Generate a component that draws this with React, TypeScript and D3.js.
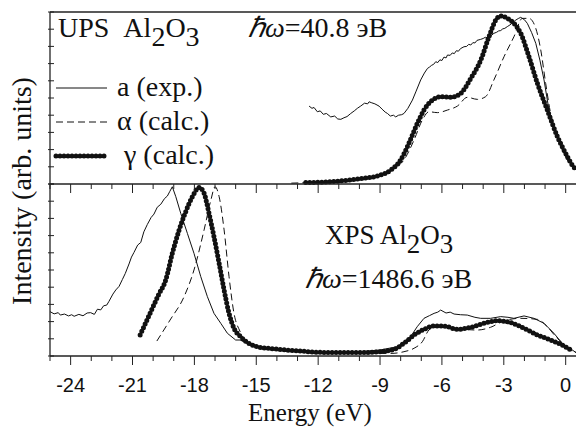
import React, { useEffect, useRef } from "react";
import * as d3 from "d3";

// energy (eV), intensity (0..1 of panel height)
const upsExp = [
  [-12.44, 0.453], [-12.3, 0.44], [-12.2, 0.445], [-12.04, 0.42], [-11.9, 0.425], [-11.75, 0.405],
  [-11.6, 0.41], [-11.39, 0.39], [-11.2, 0.395], [-11.05, 0.378], [-10.9, 0.376], [-10.75, 0.385],
  [-10.6, 0.392], [-10.42, 0.41], [-10.25, 0.425], [-10.1, 0.44], [-9.94, 0.453], [-9.75, 0.47],
  [-9.6, 0.466], [-9.53, 0.478], [-9.4, 0.472], [-9.25, 0.466], [-9.05, 0.453], [-8.9, 0.435],
  [-8.75, 0.418], [-8.64, 0.41], [-8.5, 0.395], [-8.35, 0.4], [-8.24, 0.39], [-8.1, 0.4],
  [-7.95, 0.403], [-7.84, 0.41], [-7.65, 0.44], [-7.43, 0.488], [-7.25, 0.54], [-7.03, 0.605],
  [-6.85, 0.645], [-6.7, 0.672], [-6.6, 0.68], [-6.5, 0.69], [-6.4, 0.696], [-6.3, 0.711],
  [-6.2, 0.706], [-6.1, 0.722], [-6.0, 0.718], [-5.9, 0.738], [-5.8, 0.733], [-5.73, 0.75],
  [-5.6, 0.748], [-5.5, 0.762], [-5.4, 0.758], [-5.3, 0.775], [-5.2, 0.772], [-5.1, 0.787],
  [-4.93, 0.798], [-4.8, 0.8], [-4.7, 0.812], [-4.6, 0.808], [-4.5, 0.822], [-4.4, 0.82],
  [-4.3, 0.835], [-4.12, 0.841], [-4.0, 0.846], [-3.9, 0.853], [-3.8, 0.851], [-3.7, 0.866],
  [-3.6, 0.864], [-3.48, 0.876], [-3.35, 0.882], [-3.25, 0.89], [-3.15, 0.892], [-3.05, 0.902],
  [-2.95, 0.905], [-2.83, 0.915], [-2.7, 0.925], [-2.6, 0.935], [-2.5, 0.945], [-2.42, 0.953],
  [-2.3, 0.962], [-2.18, 0.969], [-2.0, 0.955], [-1.86, 0.934], [-1.65, 0.88], [-1.45, 0.818],
  [-1.25, 0.72], [-1.05, 0.605], [-0.81, 0.43], [-0.65, 0.35], [-0.48, 0.295], [-0.3, 0.24],
  [-0.16, 0.198], [0.05, 0.15], [0.24, 0.12], [0.53, 0.093],
];

const upsAlpha = [
  [-13.3, 0.005], [-12, 0.01], [-11, 0.015], [-10, 0.025], [-8.97, 0.052], [-8.32, 0.09],
  [-7.84, 0.14], [-7.35, 0.256], [-6.95, 0.372], [-6.63, 0.42], [-6.22, 0.415], [-5.73, 0.43],
  [-5.25, 0.453], [-4.77, 0.504], [-4.28, 0.492], [-3.88, 0.508], [-3.48, 0.605], [-2.99, 0.74],
  [-2.51, 0.856], [-2.1, 0.963], [-1.78, 0.963], [-1.45, 0.905], [-1.21, 0.78], [-0.97, 0.585],
  [-0.73, 0.41], [-0.4, 0.275], [-0.08, 0.178], [0.24, 0.11], [0.53, 0.081],
];

const upsGamma = [
  [-12.6, 0.008], [-11.39, 0.013], [-10.1, 0.029], [-9.13, 0.047], [-8.48, 0.081], [-8.0, 0.14],
  [-7.6, 0.237], [-7.19, 0.353], [-6.87, 0.43], [-6.46, 0.488], [-6.06, 0.508], [-5.57, 0.504],
  [-5.09, 0.527], [-4.6, 0.614], [-4.12, 0.72], [-3.72, 0.856], [-3.39, 0.953], [-3.15, 0.977],
  [-2.83, 0.963], [-2.51, 0.934], [-2.18, 0.876], [-1.78, 0.74], [-1.37, 0.585], [-0.89, 0.43],
  [-0.4, 0.275], [0.0, 0.178], [0.32, 0.11], [0.53, 0.08],
];

const xpsExp = [
  [-25.0, 0.258], [-24.8, 0.245], [-24.6, 0.252], [-24.5, 0.238], [-24.3, 0.244], [-24.1, 0.233],
  [-23.95, 0.24], [-23.83, 0.231], [-23.6, 0.242], [-23.4, 0.234], [-23.2, 0.25], [-23.03, 0.252],
  [-22.85, 0.242], [-22.7, 0.272], [-22.54, 0.268], [-22.4, 0.292], [-22.25, 0.296], [-22.14, 0.318],
  [-21.95, 0.36], [-21.81, 0.384], [-21.65, 0.405], [-21.49, 0.445], [-21.35, 0.48], [-21.17, 0.535],
  [-21.05, 0.575], [-20.93, 0.602], [-20.75, 0.645], [-20.6, 0.66], [-20.45, 0.722], [-20.28, 0.765],
  [-20.1, 0.805], [-19.96, 0.825], [-19.8, 0.865], [-19.63, 0.882], [-19.45, 0.915], [-19.31, 0.93],
  [-19.2, 0.955], [-19.07, 0.984], [-18.9, 0.926], [-18.66, 0.829], [-18.34, 0.713], [-18.02, 0.597],
  [-17.69, 0.461], [-17.37, 0.345], [-17.05, 0.248], [-16.72, 0.19], [-16.4, 0.132], [-16.0, 0.093],
  [-15.78, 0.093], [-15.4, 0.07], [-15, 0.06], [-14.5, 0.045], [-14, 0.04], [-13.5, 0.035],
  [-13, 0.03], [-12.5, 0.025], [-12, 0.02], [-11.5, 0.022], [-11, 0.02], [-10.5, 0.022],
  [-10, 0.025], [-9.5, 0.03], [-9, 0.035], [-8.16, 0.054], [-7.52, 0.112], [-7.2, 0.17],
  [-6.87, 0.219], [-6.6, 0.235], [-6.38, 0.248], [-6.2, 0.255], [-6.06, 0.267], [-5.8, 0.25],
  [-5.6, 0.255], [-5.41, 0.244], [-5.1, 0.24], [-4.77, 0.238], [-4.4, 0.225], [-4.12, 0.219],
  [-3.64, 0.219], [-3.15, 0.229], [-2.8, 0.225], [-2.51, 0.219], [-2.02, 0.233], [-1.54, 0.219],
  [-1.05, 0.19], [-0.57, 0.132], [-0.16, 0.073], [0.32, 0.035], [0.5, 0.02],
];

const xpsAlpha = [
  [-19.82, 0.087], [-19.18, 0.209], [-18.5, 0.345], [-18.02, 0.5], [-17.53, 0.733], [-17.2, 0.907],
  [-17.0, 0.984], [-16.8, 0.926], [-16.56, 0.733], [-16.32, 0.461], [-16.08, 0.248], [-15.78, 0.141],
  [-15.5, 0.08], [-15, 0.05], [-14, 0.035], [-12, 0.02], [-10, 0.015], [-8.5, 0.015],
  [-7.84, 0.025], [-7.35, 0.045], [-6.95, 0.083], [-6.63, 0.151], [-6.22, 0.174], [-5.41, 0.161],
  [-4.28, 0.151], [-3.64, 0.167], [-2.99, 0.205], [-2.18, 0.219], [-1.37, 0.213], [-0.89, 0.17],
  [-0.4, 0.102], [0.08, 0.054], [0.5, 0.02],
];

const xpsGamma = [
  [-20.63, 0.122], [-20.15, 0.248], [-19.74, 0.355], [-19.39, 0.442], [-19.07, 0.597], [-18.74, 0.733],
  [-18.42, 0.839], [-18.1, 0.926], [-17.77, 0.98], [-17.53, 0.946], [-17.29, 0.829], [-17.05, 0.694],
  [-16.8, 0.539], [-16.56, 0.384], [-16.32, 0.248], [-16.08, 0.161], [-15.76, 0.112], [-15.3, 0.07],
  [-15, 0.055], [-14, 0.04], [-13, 0.03], [-12, 0.022], [-11, 0.02], [-10, 0.02],
  [-9.0, 0.025], [-8.32, 0.039], [-7.84, 0.074], [-7.35, 0.122], [-6.87, 0.155], [-6.38, 0.174],
  [-5.9, 0.174], [-5.25, 0.155], [-4.6, 0.167], [-3.96, 0.19], [-3.31, 0.205], [-2.67, 0.194],
  [-2.02, 0.161], [-1.37, 0.122], [-0.73, 0.093], [-0.08, 0.058], [0.32, 0.031],
];

const xMajorTicks = [-24, -21, -18, -15, -12, -9, -6, -3, 0];
const xMinorTicks = d3.range(-25, 1, 1);
const yTicks = d3.range(0, 1.0001, 0.1);

const legendItems = ["a (exp.)", "\u03b1 (calc.)", "\u03b3 (calc.)"];

const W = 576;
const H = 434;
const left = 50;
const right = 576;
const top = 12;
const mid = 184;
const bottom = 356;
const serif = "'Liberation Serif', 'Times New Roman', serif";
const dots = { width: 5, dash: "0,4" };

const App = () => {
  const svgRef = useRef(null);

  useEffect(() => {
    const svg = d3.select(svgRef.current);
    svg.selectAll("*").remove();

    const x = d3.scaleLinear().domain([-25, 0.5]).range([left, right]);
    const yUp = d3.scaleLinear().domain([0, 1]).range([mid, top]);
    const yLo = d3.scaleLinear().domain([0, 1]).range([bottom, mid]);

    const clip = svg.append("clipPath").attr("id", "plotclip");
    clip.append("rect").attr("x", left).attr("y", top - 2).attr("width", right - left).attr("height", bottom - top + 2);

    const plot = svg.append("g").attr("clip-path", "url(#plotclip)");

    const drawSeries = (data, y, kind) => {
      const line = d3
        .line()
        .x((d) => x(d[0]))
        .y((d) => y(d[1]))
        .curve(kind === "exp" ? d3.curveLinear : d3.curveMonotoneX);
      const p = plot.append("path").datum(data).attr("d", line).attr("fill", "none").attr("stroke", "#111");
      if (kind === "exp") p.attr("stroke-width", 1);
      if (kind === "alpha") p.attr("stroke-width", 1).attr("stroke-dasharray", "7,4");
      if (kind === "gamma") {
        p.attr("stroke-width", 1);
        plot
          .append("path")
          .datum(data)
          .attr("d", line)
          .attr("fill", "none")
          .attr("stroke", "#111")
          .attr("stroke-width", dots.width)
          .attr("stroke-linecap", "round")
          .attr("stroke-dasharray", dots.dash);
      }
    };

    drawSeries(upsExp, yUp, "exp");
    drawSeries(upsAlpha, yUp, "alpha");
    drawSeries(upsGamma, yUp, "gamma");
    drawSeries(xpsExp, yLo, "exp");
    drawSeries(xpsAlpha, yLo, "alpha");
    drawSeries(xpsGamma, yLo, "gamma");

    // frame
    const frame = svg.append("g").attr("stroke", "#222").attr("stroke-width", 1.3);
    frame.append("line").attr("x1", left).attr("x2", right).attr("y1", top).attr("y2", top);
    frame.append("line").attr("x1", left).attr("x2", right).attr("y1", mid).attr("y2", mid);
    frame.append("line").attr("x1", left).attr("x2", right).attr("y1", bottom).attr("y2", bottom);
    frame.append("line").attr("x1", left).attr("x2", left).attr("y1", top).attr("y2", bottom);

    // x ticks: top of lower panel (inward) and bottom axis (outward)
    const ticks = svg.append("g").attr("stroke", "#222").attr("stroke-width", 1);
    xMinorTicks.forEach((t) => {
      const major = xMajorTicks.includes(t);
      const len = major ? 9 : 5;
      ticks.append("line").attr("x1", x(t)).attr("x2", x(t)).attr("y1", mid).attr("y2", mid + len);
      ticks.append("line").attr("x1", x(t)).attr("x2", x(t)).attr("y1", bottom).attr("y2", bottom + len);
    });
    // y ticks
    [yUp, yLo].forEach((y) => {
      yTicks.forEach((t) => {
        ticks.append("line").attr("x1", left - 2).attr("x2", left + 4).attr("y1", y(t)).attr("y2", y(t));
      });
    });

    svg
      .append("g")
      .selectAll("text")
      .data(xMajorTicks)
      .join("text")
      .attr("x", (d) => x(d))
      .attr("y", 392)
      .attr("text-anchor", "middle")
      .attr("font-family", "'Liberation Sans', Arial, sans-serif")
      .attr("font-size", 20)
      .attr("fill", "#111")
      .text((d) => d);

    svg
      .append("text")
      .attr("x", 310)
      .attr("y", 421)
      .attr("text-anchor", "middle")
      .attr("font-family", serif)
      .attr("font-size", 25)
      .attr("fill", "#111")
      .text("Energy (eV)");

    svg
      .append("text")
      .attr("transform", "translate(31,191) rotate(-90)")
      .attr("text-anchor", "middle")
      .attr("font-family", serif)
      .attr("font-size", 28)
      .attr("fill", "#111")
      .text("Intensity (arb. units)");

    // formula labels
    const formula = (px, py, label, size) => {
      const t = svg
        .append("text")
        .attr("x", px)
        .attr("y", py)
        .attr("font-family", serif)
        .attr("font-size", size)
        .attr("fill", "#111");
      t.append("tspan").text(label + "Al");
      t.append("tspan").attr("dy", 9).text("2");
      t.append("tspan").attr("dy", -9).text("O");
      t.append("tspan").attr("dy", 9).text("3");
    };
    formula(58, 37, "UPS\u00a0\u00a0", 28);
    formula(325, 244, "XPS ", 27);

    const energyLabel = (px, py, value) => {
      const t = svg
        .append("text")
        .attr("x", px)
        .attr("y", py)
        .attr("font-family", serif)
        .attr("font-size", 28)
        .attr("fill", "#111");
      t.append("tspan").attr("font-style", "italic").text("\u210f\u03c9");
      t.append("tspan").text("=" + value + " \u044dB");
    };
    energyLabel(248, 37, "40.8");
    energyLabel(305, 288, "1486.6");

    // legend
    const legendY = [88, 122, 156];
    legendItems.forEach((label, i) => {
      const ly = legendY[i];
      const l = svg
        .append("line")
        .attr("x1", 56)
        .attr("x2", 107)
        .attr("y1", ly)
        .attr("y2", ly)
        .attr("stroke", "#111")
        .attr("stroke-width", 1);
      if (i === 1) l.attr("stroke-dasharray", "7,4");
      if (i === 2) {
        l.attr("stroke-width", dots.width).attr("stroke-linecap", "round").attr("stroke-dasharray", dots.dash);
      }
      svg
        .append("text")
        .attr("x", i === 2 ? 124 : 117)
        .attr("y", ly + 8)
        .attr("font-family", serif)
        .attr("font-size", 28)
        .attr("fill", "#111")
        .text(label);
    });
  }, []);

  return (
    <svg
      ref={svgRef}
      width={W}
      height={H}
      style={{ position: "absolute", left: 0, top: 0, background: "#fff" }}
    />
  );
};

export default App;
